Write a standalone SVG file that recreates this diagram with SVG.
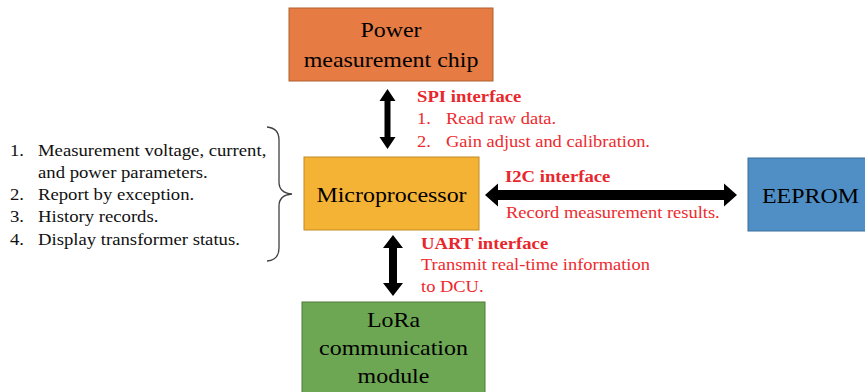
<svg xmlns="http://www.w3.org/2000/svg" width="865" height="392" viewBox="0 0 865 392">
<style>
text{font-family:'Liberation Serif','DejaVu Serif',serif}
.box-label{font-size:21px;fill:#000;text-anchor:middle}
.txt{font-size:16.4px;fill:#111}
.red{font-size:16.2px;fill:#EE2A2E}
.redb{font-size:16.4px;fill:#E8262B;font-weight:bold}
.arrow{fill:#000}
.brace{fill:none;stroke:#404040;stroke-width:1.3}
</style>
<rect width="865" height="392" fill="#fff"/>

<g id="power-chip">
<rect x="289" y="8" width="204" height="73" fill="#E67B44" stroke="#B0602F" stroke-width="1"/>
<text class="box-label" transform="translate(391,37) scale(1.14,1)">Power</text>
<text class="box-label" transform="translate(391,67) scale(1.14,1)">measurement chip</text>
</g>

<g id="microprocessor">
<rect x="304" y="157" width="175" height="73" fill="#F5B335" stroke="#C08A25" stroke-width="1"/>
<text class="box-label" transform="translate(391.5,202) scale(1.14,1)">Microprocessor</text>
</g>

<g id="eeprom">
<rect x="748" y="158" width="125" height="73" fill="#4F8FC6" stroke="#3A6E9C" stroke-width="1"/>
<text class="box-label" transform="translate(810.5,203) scale(1.14,1)">EEPROM</text>
</g>

<g id="lora">
<rect x="302" y="302" width="183" height="100" fill="#6DA753" stroke="#4F7D3B" stroke-width="1"/>
<text class="box-label" transform="translate(393.5,327) scale(1.14,1)">LoRa</text>
<text class="box-label" transform="translate(393.5,355) scale(1.14,1)">communication</text>
<text class="box-label" transform="translate(393.5,383) scale(1.14,1)">module</text>
</g>

<g id="functions-list">
<text class="txt" transform="translate(10,155.5) scale(1.14,1)">1.</text>
<text class="txt" transform="translate(38,155.5) scale(1.14,1)">Measurement voltage, current,</text>
<text class="txt" transform="translate(38,177.5) scale(1.14,1)">and power parameters.</text>
<text class="txt" transform="translate(10,200) scale(1.14,1)">2.</text>
<text class="txt" transform="translate(38,200) scale(1.14,1)">Report by exception.</text>
<text class="txt" transform="translate(10,222) scale(1.14,1)">3.</text>
<text class="txt" transform="translate(38,222) scale(1.14,1)">History records.</text>
<text class="txt" transform="translate(10,245) scale(1.14,1)">4.</text>
<text class="txt" transform="translate(38,245) scale(1.14,1)">Display transformer status.</text>
<path class="brace" d="M267,127 Q279,128 279,140 L279,182 Q279,193 292,194 Q279,195 279,206 L279,248 Q279,260 267,261"/>
</g>

<g id="connectors">
<path class="arrow" d="M387.5,89 L395.5,101 L390.5,101 L390.5,137 L395.5,137 L387.5,149 L379.5,137 L384.5,137 L384.5,101 L379.5,101 Z"/>
<path class="arrow" d="M485,195 L498,183.5 L498,190 L724,190 L724,183.5 L737,195 L724,206.5 L724,200 L498,200 L498,206.5 Z"/>
<path class="arrow" d="M393,235 L403,248 L397,248 L397,283 L403,283 L393,296 L383,283 L389,283 L389,248 L383,248 Z"/>
</g>

<g id="spi-label">
<text class="redb" transform="translate(417,102) scale(1.14,1)">SPI interface</text>
<text class="red" transform="translate(417,124) scale(1.14,1)">1.</text>
<text class="red" transform="translate(446,124) scale(1.14,1)">Read raw data.</text>
<text class="red" transform="translate(417,147) scale(1.14,1)">2.</text>
<text class="red" transform="translate(446,147) scale(1.14,1)">Gain adjust and calibration.</text>
</g>

<g id="i2c-label">
<text class="redb" transform="translate(505,181.5) scale(1.14,1)">I2C interface</text>
<text class="red" transform="translate(506,218) scale(1.14,1)">Record measurement results.</text>
</g>

<g id="uart-label">
<text class="redb" transform="translate(421,249) scale(1.14,1)">UART interface</text>
<text class="red" transform="translate(421,270) scale(1.14,1)">Transmit real-time information</text>
<text class="red" transform="translate(421,292) scale(1.14,1)">to DCU.</text>
</g>
</svg>
